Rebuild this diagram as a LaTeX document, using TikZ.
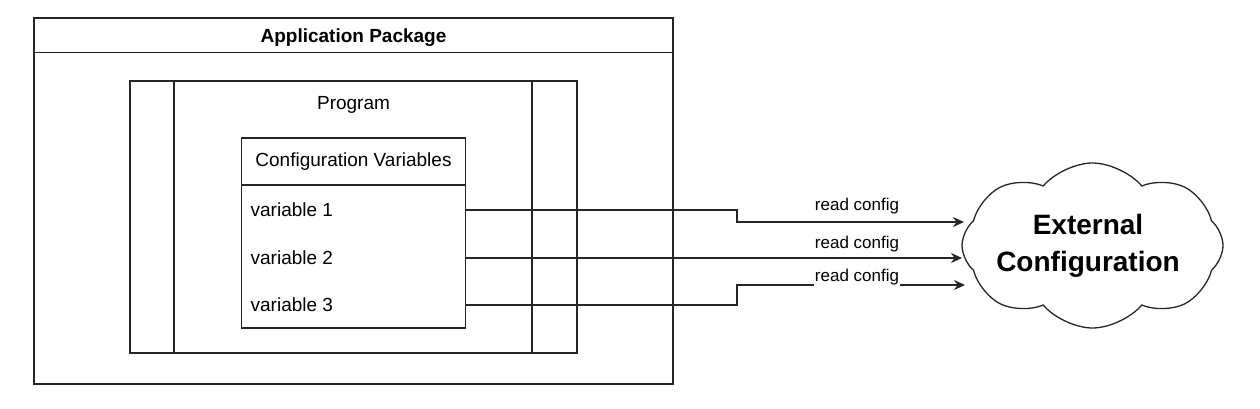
\documentclass[tikz,border=0pt]{standalone}
\usepackage{fontspec}
\setmainfont{Liberation Sans}
\usetikzlibrary{arrows.meta,shapes.symbols}

\begin{document}
\begin{tikzpicture}[x=1pt,y=-1pt,
    line width=1.3pt,
    box/.style={draw=black!85,inner sep=0pt},
    txt/.style={font=\fontsize{19}{22}\selectfont,inner sep=0pt},
    readcfg/.style={draw=black!85,-{Stealth[length=11pt,width=10pt]}},
    lbl/.style={font=\fontsize{17}{20}\selectfont,fill=white,inner sep=1pt}]
            \useasboundingbox (0,0) rectangle (1260,409);

            % application package
            \node[box,minimum width=639pt,minimum height=366pt] (Package) at (353.5,201) {};
            \draw[draw=black!85] (Package.north west) ++(0,35) -- ++(639,0);
            \node[txt,font=\fontsize{19}{22}\selectfont\bfseries] (Title) at (353.5,38) {Application Package};

            % program
            \node[box,minimum width=447pt,minimum height=272pt] (Program) at (353.5,217) {};
            \draw[draw=black!85] (174,81) -- (174,353);
            \draw[draw=black!85] (532,81) -- (532,353);
            \node[txt] (Program Label) at (353.5,105) {Program};

            % configuration variables
            \node[box,minimum width=224pt,minimum height=190pt] (Config) at (353.5,233) {};
            \draw[draw=black!85] (241.5,185) -- (465.5,185);
            \node[txt] (Config Title) at (353.5,162) {Configuration Variables};
            \node[txt,anchor=west] (Var1) at (250,210) {variable 1};
            \node[txt,anchor=west] (Var2) at (250,258) {variable 2};
            \node[txt,anchor=west] (Var3) at (250,305) {variable 3};

            % external configuration
            \node[cloud,draw=black!85,cloud puffs=8,cloud puff arc=100,aspect=1.6,
                  cloud ignores aspect,minimum width=261pt,minimum height=165pt,inner sep=0pt]
                  (Cloud) at (1092.5,245.5) {};
            \node[align=center,inner sep=0pt,font=\fontsize{28}{37}\selectfont\bfseries]
                  (External) at (1088,246) {External\\Configuration};

            \coordinate (In1) at (964,222);
            \coordinate (In2) at (962,258);
            \coordinate (In3) at (965,285);

            \draw[readcfg] (Config.east |- Var1) -| (737,216) |- (In1);
            \draw[readcfg] (Config.east |- Var2) -- (In2);
            \draw[readcfg] (Config.east |- Var3) -| (737,295) |- (In3);
            \node[lbl] (Read1) at (857,206) {read config};
            \node[lbl] (Read2) at (857,244) {read config};
            \node[lbl] (Read3) at (857,277) {read config};

        \end{tikzpicture}
\end{document}
